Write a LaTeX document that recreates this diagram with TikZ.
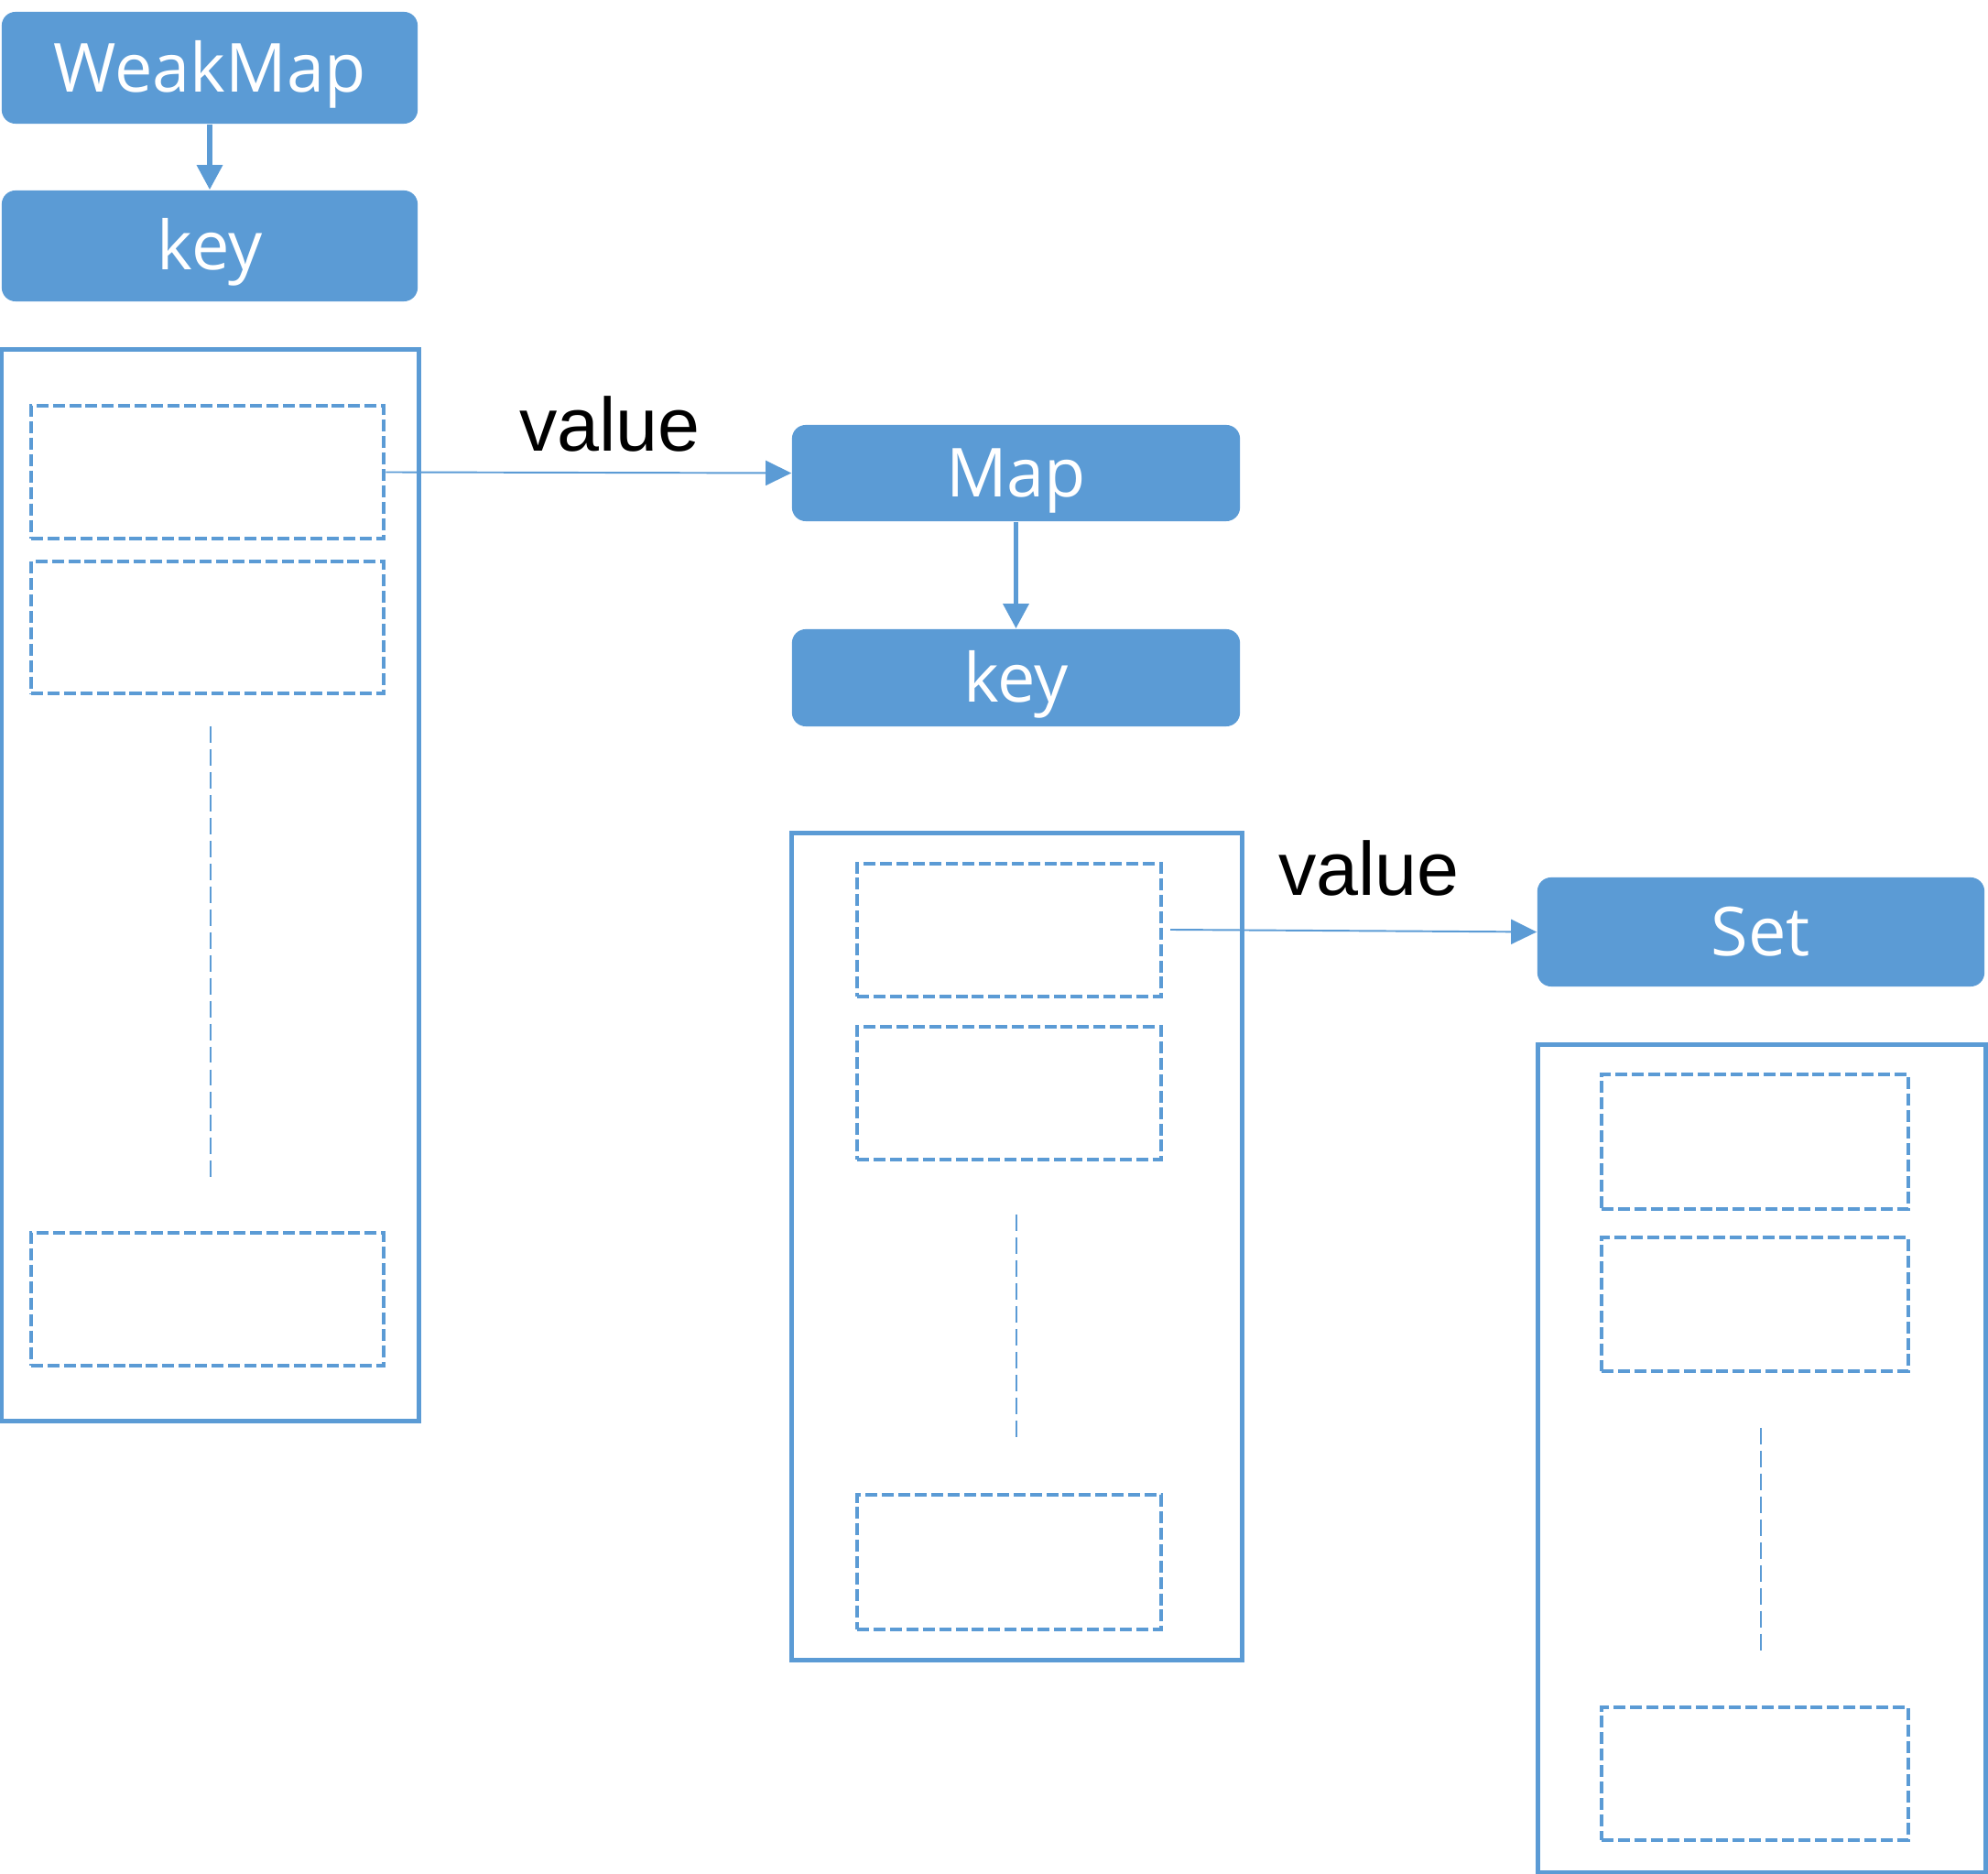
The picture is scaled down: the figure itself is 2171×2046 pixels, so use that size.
\documentclass[tikz,border=0pt]{standalone}
\usepackage{fontspec}
\setmainfont{Open Sans}
\newfontfamily\valuefont{Liberation Sans}
\usetikzlibrary{arrows.meta}
\definecolor{ofblue}{HTML}{5B9BD5}
\tikzset{
  fillbox/.style={fill=ofblue, draw=none, rounded corners=0.15cm, text=white,
    font=\fontsize{21}{25}\selectfont, inner sep=0pt, text height=15pt, text depth=0pt},
  outerbox/.style={draw=ofblue, line width=1.45pt, inner sep=0pt},
  slotbox/.style={draw=ofblue, line width=1.25pt, dash pattern=on 3.7pt off 1.4pt, inner sep=0pt},
  slotline/.style={draw=ofblue, line width=0.6pt, dash pattern=on 5.1pt off 2pt},
  thickarrow/.style={draw=ofblue, line width=1.7pt, -{Triangle[length=0.27cm,width=0.27cm]}},
  thinarrow/.style={draw=ofblue, line width=0.55pt, -{Triangle[length=0.28cm,width=0.27cm]}},
  valuelabel/.style={font=\valuefont\fontsize{23.5}{28}\selectfont, text=black, inner sep=0pt, anchor=base}
}
\begin{document}
\begin{tikzpicture}[x=0.01cm, y=-0.01cm]
\useasboundingbox (0,0) rectangle (2171,2046);
% column 1
\node[fillbox, minimum width=4.54cm, minimum height=1.22cm] (weakmap) at (229,74) {WeakMap};
\node[fillbox, minimum width=4.54cm, minimum height=1.21cm] (key1) at (229,268.5) {key};
\draw[thickarrow] (weakmap.south) -- (key1.north);
\node[outerbox, minimum width=4.55cm, minimum height=11.69cm] (outer1) at (229.5,966.5) {};
\node[slotbox, minimum width=3.85cm, minimum height=1.45cm] (s11) at (226.5,515.5) {};
\node[slotbox, minimum width=3.85cm, minimum height=1.44cm] (s12) at (226.5,685) {};
\node[slotbox, minimum width=3.85cm, minimum height=1.45cm] (s13) at (226.5,1418.5) {};
\coordinate (l1a) at (230,793);
\coordinate (l1b) at (230,1290);
\draw[slotline] (l1a) -- (l1b);
% column 2
\node[fillbox, minimum width=4.89cm, minimum height=1.05cm] (map) at (1109.5,516.5) {Map};
\node[fillbox, minimum width=4.89cm, minimum height=1.06cm] (key2) at (1109.5,740) {key};
\draw[thickarrow] (map.south) -- (key2.north);
\node[outerbox, minimum width=4.91cm, minimum height=9.02cm] (outer2) at (1110.5,1361) {};
\node[slotbox, minimum width=3.32cm, minimum height=1.45cm] (s21) at (1102,1015.5) {};
\node[slotbox, minimum width=3.32cm, minimum height=1.45cm] (s22) at (1102,1193.5) {};
\node[slotbox, minimum width=3.32cm, minimum height=1.47cm] (s23) at (1102,1705.5) {};
\coordinate (l2a) at (1110,1326);
\coordinate (l2b) at (1110,1573);
\draw[slotline] (l2a) -- (l2b);
% column 3
\node[fillbox, minimum width=4.88cm, minimum height=1.19cm] (set) at (1923,1017.5) {Set};
\node[outerbox, minimum width=4.88cm, minimum height=9.03cm] (outer3) at (1924,1592.5) {};
\node[slotbox, minimum width=3.35cm, minimum height=1.47cm] (s31) at (1916.5,1246.5) {};
\node[slotbox, minimum width=3.35cm, minimum height=1.46cm] (s32) at (1916.5,1424) {};
\node[slotbox, minimum width=3.35cm, minimum height=1.45cm] (s33) at (1916.5,1936.5) {};
\coordinate (l3a) at (1923,1559);
\coordinate (l3b) at (1923,1803);
\draw[slotline] (l3a) -- (l3b);
% value connectors
\draw[thinarrow] (s11.east) -- (map.west);
\node[valuelabel] (v1) at (666,493) {value};
\coordinate (a2start) at (1278,1015);
\draw[thinarrow] (a2start) -- (set.west);
\node[valuelabel] (v2) at (1495,978) {value};
\end{tikzpicture}
\end{document}
